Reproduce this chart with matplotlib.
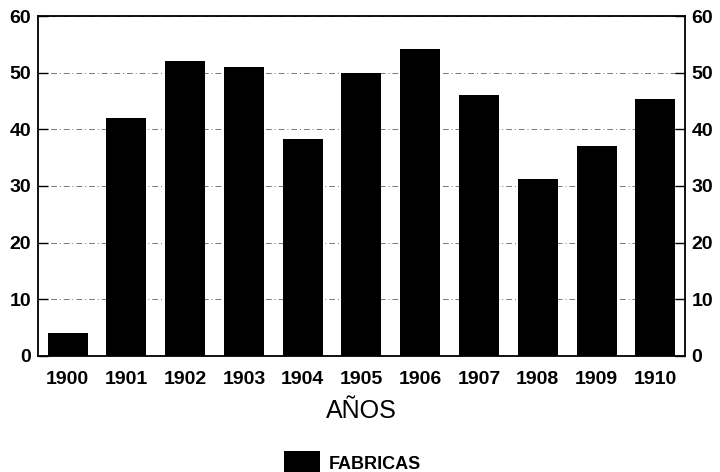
import numpy as np
import matplotlib.pyplot as plt

years = ['1900', '1901', '1902', '1903', '1904', '1905',
         '1906', '1907', '1908', '1909', '1910']
fabricas = [4, 42, 52, 51, 38.3, 50, 54.2, 46.1, 31.2, 37, 45.3]
yticks = [0, 10, 20, 30, 40, 50, 60]

plt.rcParams['font.family'] = ['Liberation Sans', 'DejaVu Sans']

fig = plt.figure(figsize=(7.2, 4.72), dpi=100)
ax = fig.add_axes([0.053, 0.246, 0.898, 0.72])

x = np.arange(len(years))
ax.bar(x, fabricas, width=0.68, color='black', label='FABRICAS', zorder=3)

ax.set_xlim(-0.5, len(years) - 0.5)
ax.set_ylim(0, 60)
ax.set_yticks(yticks)
ax.set_xticks(x)
ax.set_xticklabels(years)
ax.grid(axis='y', color='#777777', linestyle=(0, (6, 3, 1, 3)), linewidth=0.7, zorder=1)

for s in ax.spines.values():
    s.set_linewidth(1.3)

ax.tick_params(axis='y', direction='in', length=7, width=1, labelsize=14,
               left=True, right=True, labelleft=True, labelright=True, pad=5)
ax.tick_params(axis='x', length=0, labelsize=14, pad=11)
for lab in ax.get_xticklabels() + ax.get_yticklabels():
    lab.set_fontweight('bold')

ax.set_xlabel('AÑOS', fontsize=18, labelpad=8)

fig.legend(loc='lower center', bbox_to_anchor=(0.49, -0.04), frameon=False,
           prop={'weight': 'bold', 'size': 13},
           handlelength=2.0, handleheight=1.6, handletextpad=0.5)

fig.savefig('out.png', dpi=100)
